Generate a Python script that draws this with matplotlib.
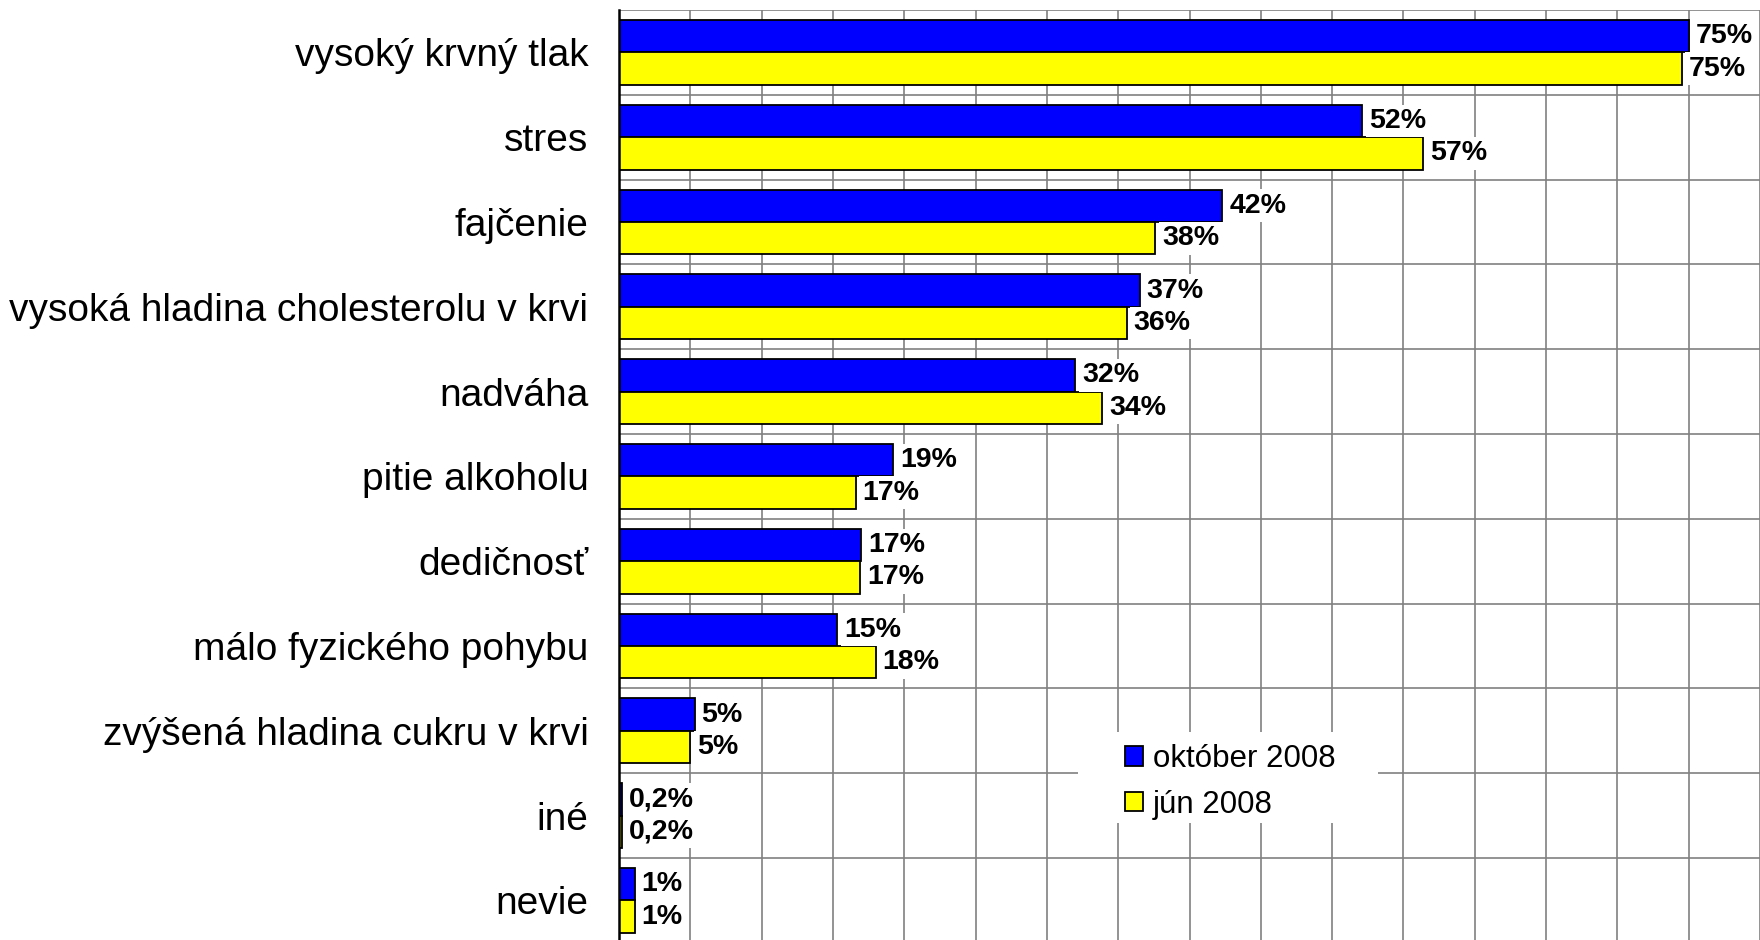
import matplotlib
matplotlib.use("Agg")
import matplotlib.pyplot as plt
from matplotlib.patches import Rectangle
import numpy as np

plt.rcParams['font.family'] = ['Liberation Sans', 'DejaVu Sans']

# categories top to bottom
categories = ["vysoký krvný tlak", "stres", "fajčenie",
              "vysoká hladina cholesterolu v krvi", "nadváha",
              "pitie alkoholu", "dedičnosť", "málo fyzického pohybu",
              "zvýšená hladina cukru v krvi", "iné", "nevie"]

# bar lengths (%)
oct_2008 = [75.0, 52.1, 42.3, 36.5, 32.0, 19.2, 17.0, 15.3, 5.3, 0.2, 1.1]
jun_2008 = [74.5, 56.4, 37.6, 35.6, 33.9, 16.6, 16.9, 18.0, 5.0, 0.2, 1.1]

# printed data labels
oct_labels = ["75%", "52%", "42%", "37%", "32%", "19%", "17%", "15%", "5%", "0,2%", "1%"]
jun_labels = ["75%", "57%", "38%", "36%", "34%", "17%", "17%", "18%", "5%", "0,2%", "1%"]

series_names = ["október 2008", "jún 2008"]

fig = plt.figure(figsize=(17.6, 9.4), dpi=100)
ax = fig.add_axes([619 / 1760, 1 - 942.8 / 940, 1141 / 1760, 932.8 / 940])

y = np.arange(len(categories))
h = 0.383
bars_oct = ax.barh(y - h / 2, oct_2008, height=h, color="#0000ff",
                   edgecolor="black", linewidth=1.3, zorder=2, label=series_names[0])
bars_jun = ax.barh(y + h / 2, jun_2008, height=h, color="#ffff00",
                   edgecolor="black", linewidth=1.3, zorder=2, label=series_names[1])

# value labels with white boxes over the grid
for bars, labels in [(bars_oct, oct_labels), (bars_jun, jun_labels)]:
    for b, lab in zip(bars, labels):
        ax.annotate(lab, (b.get_width(), b.get_y() + b.get_height() / 2),
                    xytext=(5, 0), textcoords="offset points",
                    ha="left", va="center", fontsize=20.5, fontweight="bold",
                    bbox=dict(boxstyle="square,pad=0.12", fc="white", ec="none"),
                    zorder=4)

ax.set_xlim(0, 80)
ax.set_ylim(len(categories) - 0.5, -0.5)

ax.set_xticks(np.arange(0, 81, 5))
ax.set_xticklabels([])
ax.set_yticks(y)
ax.set_yticklabels(categories, fontsize=28)
ax.set_yticks(np.arange(-0.5, len(categories), 1), minor=True)
ax.tick_params(axis="both", which="both", length=0)
ax.tick_params(axis="y", pad=22)

ax.set_axisbelow(True)
ax.grid(axis="x", which="major", color="#808080", linewidth=1.2)
ax.grid(axis="y", which="minor", color="#808080", linewidth=1.2)

for s in ["top", "right", "bottom"]:
    ax.spines[s].set_visible(False)
ax.spines["left"].set_linewidth(1.8)
ax.spines["left"].set_zorder(3)

# white area behind the legend
ax.add_patch(Rectangle((0.4023, 0.1285), 0.263, 0.0975, transform=ax.transAxes,
                       facecolor="white", edgecolor="none", zorder=1))

leg = ax.legend(loc="upper left", bbox_to_anchor=(1125 / 1760, 1 - 744 / 940),
                bbox_transform=fig.transFigure, frameon=False, fontsize=22.5,
                handlelength=0.58, handleheight=0.58, handletextpad=0.32,
                labelspacing=0.5, borderpad=0, borderaxespad=0)
leg.set_zorder(5)

fig.savefig("out.png", dpi=100)
